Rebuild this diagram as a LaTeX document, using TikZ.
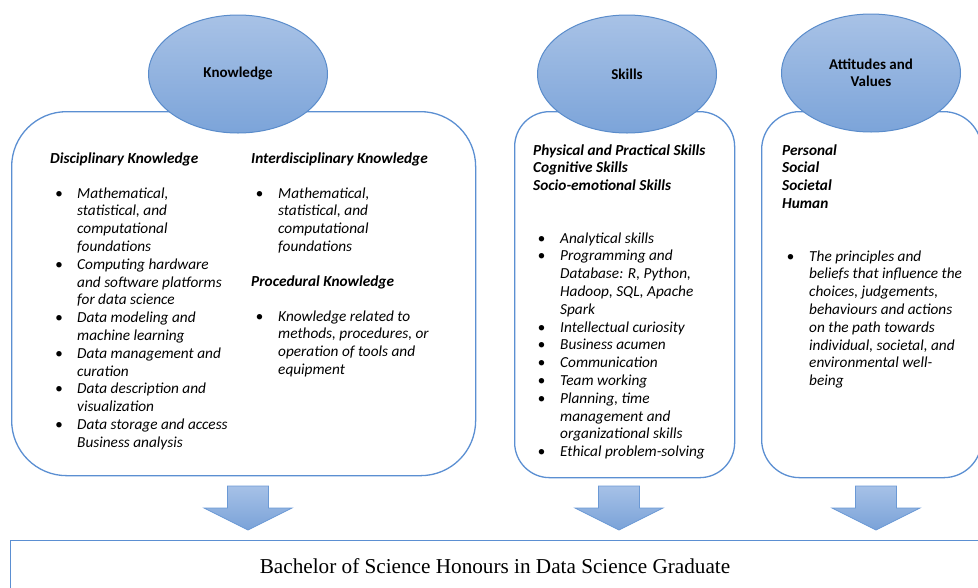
\documentclass[tikz,border=0pt]{standalone}
\usepackage{fontspec}
\setmainfont{Carlito}
\newfontfamily\gradfont{Liberation Serif}
\usetikzlibrary{shapes.geometric}
\definecolor{boxblue}{HTML}{5B8FD2}
\definecolor{ovaltop}{HTML}{A8C2E6}
\definecolor{ovalbot}{HTML}{7CA4D9}
\definecolor{ovalline}{HTML}{5A8CCB}
\definecolor{arrtop}{HTML}{A6C1E7}
\definecolor{arrbot}{HTML}{7AA2D8}
\definecolor{arrline}{HTML}{6B99D5}
\tikzset{
  bigbox/.style={draw=boxblue, line width=1.3pt, fill=white, inner sep=0pt, anchor=north west},
  oval/.style={ellipse, draw=ovalline, line width=1pt, top color=ovaltop, bottom color=ovalbot,
    minimum width=179pt, minimum height=118pt, inner sep=0pt, align=center,
    font=\bfseries\fontsize{15}{17}\selectfont},
  headtxt/.style={anchor=base west, inner sep=0pt, align=left,
    font=\bfseries\itshape\fontsize{15.3}{17.8}\selectfont},
  listtxt/.style={anchor=base west, inner sep=0pt,
    font=\itshape\fontsize{15.3}{17.8}\selectfont},
  downarr/.style={top color=arrtop, bottom color=arrbot, draw=arrline, line width=0.8pt},
  gradbox/.style={draw=boxblue, line width=1pt, fill=white, minimum width=970pt, minimum height=52pt,
    inner sep=0pt, font=\gradfont\fontsize{21.2}{24}\selectfont},
}
\begin{document}
\begin{tikzpicture}[x=1pt,y=-1pt]
\useasboundingbox (0,0) rectangle (978,587);
% boxes
\node[bigbox, rounded corners=55pt, minimum width=464pt, minimum height=364pt] (kbox) at (11,111) {};
\node[bigbox, rounded corners=35pt, minimum width=220pt, minimum height=366pt] (sbox) at (514,111) {};
\node[bigbox, rounded corners=38pt, minimum width=220pt, minimum height=366pt] (abox) at (761,111) {};
% ovals
\node[oval] (know) at (238,74) {Knowledge};
\node[oval] (skill) at (627,74) {Skills};
\node[oval] (att) at (871,73) {Attitudes and\\Values};
% Knowledge texts
\node[headtxt] (dkh) at (50,163) {Disciplinary Knowledge};
\node[listtxt] (dkl) at (55,198) {\begin{tabular}[t]{@{}p{22pt}@{}l@{}}
\textbullet & Mathematical,\\
 & statistical, and\\
 & computational\\
 & foundations\\
\textbullet & Computing hardware\\
 & and software platforms\\
 & for data science\\
\textbullet & Data modeling and\\
 & machine learning\\
\textbullet & Data management and\\
 & curation\\
\textbullet & Data description and\\
 & visualization\\
\textbullet & Data storage and access\\
 & Business analysis
\end{tabular}};
\node[headtxt] (ikh) at (251,163) {Interdisciplinary Knowledge};
\node[listtxt] (ikl) at (255.5,198) {\begin{tabular}[t]{@{}p{22.5pt}@{}l@{}}
\textbullet & Mathematical,\\
 & statistical, and\\
 & computational\\
 & foundations
\end{tabular}};
\node[headtxt] (pkh) at (251,286) {Procedural Knowledge};
\node[listtxt] (pkl) at (255.5,321) {\begin{tabular}[t]{@{}p{22.5pt}@{}l@{}}
\textbullet & Knowledge related to\\
 & methods, procedures, or\\
 & operation of tools and\\
 & equipment
\end{tabular}};
% Skills texts
\node[headtxt] (skh) at (533,155) {\begin{tabular}[t]{@{}l@{}}Physical and Practical Skills\\Cognitive Skills\\Socio-emotional Skills\end{tabular}};
\node[listtxt] (skl) at (537.5,243) {\begin{tabular}[t]{@{}p{22.5pt}@{}l@{}}
\textbullet & Analytical skills\\
\textbullet & Programming and\\
 & Database: R, Python,\\
 & Hadoop, SQL, Apache\\
 & Spark\\
\textbullet & Intellectual curiosity\\
\textbullet & Business acumen\\
\textbullet & Communication\\
\textbullet & Team working\\
\textbullet & Planning, time\\
 & management and\\
 & organizational skills\\
\textbullet & Ethical problem-solving
\end{tabular}};
% Attitudes texts
\node[headtxt] (avh) at (782,155) {\begin{tabular}[t]{@{}l@{}}Personal\\Social\\Societal\\Human\end{tabular}};
\node[listtxt] (avl) at (786.5,261) {\begin{tabular}[t]{@{}p{22.5pt}@{}l@{}}
\textbullet & The principles and\\
 & beliefs that influence the\\
 & choices, judgements,\\
 & behaviours and actions\\
 & on the path towards\\
 & individual, societal, and\\
 & environmental well-\\
 & being
\end{tabular}};
% bottom box
\node[gradbox] (grad) at (495,566) {Bachelor of Science Honours in Data Science Graduate};
% arrows
\coordinate (ka) at (248,486);
\coordinate (sa) at (619,486);
\coordinate (aa) at (876,486);
\foreach \c in {ka,sa,aa}{
  \shade[downarr] (\c) ++(-20.5,0) -- ++(41,0) -- ++(0,22) -- ++(23.5,0) -- ++(-44,22) -- ++(-44,-22) -- ++(23.5,0) -- cycle;
}
\end{tikzpicture}
\end{document}
